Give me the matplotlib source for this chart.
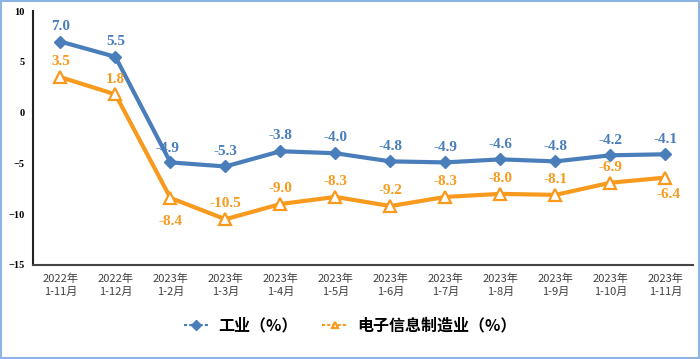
import matplotlib.pyplot as plt
from matplotlib.patches import Rectangle

plt.rcParams['font.family'] = ['Noto Sans CJK SC', 'DejaVu Sans']

categories = ['2022年\n1-11月', '2022年\n1-12月', '2023年\n1-2月', '2023年\n1-3月',
              '2023年\n1-4月', '2023年\n1-5月', '2023年\n1-6月', '2023年\n1-7月',
              '2023年\n1-8月', '2023年\n1-9月', '2023年\n1-10月', '2023年\n1-11月']
industry = [7.0, 5.5, -4.9, -5.3, -3.8, -4.0, -4.8, -4.9, -4.6, -4.8, -4.2, -4.1]
electronics = [3.5, 1.8, -8.4, -10.5, -9.0, -8.3, -9.2, -8.3, -8.0, -8.1, -6.9, -6.4]
# label offsets (points) for the orange series
elec_offsets = [(0, 11), (0, 11), (0, -17), (0, 11), (0, 11), (0, 11), (0, 11),
                (0, 11), (0, 11), (0, 11), (0, 11), (2, -12)]
ind_offsets = [(0, 11)] * 12
ind_offsets[2] = (-2, 10)

blue = '#4A7EBB'
orange = '#F79A1E'

fig = plt.figure(figsize=(7, 3.59), dpi=100)
ax = fig.add_axes([0.047, 0.262, 0.943, 0.707])

x = list(range(len(categories)))
ax.plot(x, industry, color=blue, lw=3, marker='D', ms=6.5, mfc=blue, mec=blue,
        label='工业（%）', zorder=3)
ax.plot(x, electronics, color=orange, lw=3, marker='^', ms=8, mfc='white', mec=orange,
        mew=1.6, label='电子信息制造业（%）', zorder=3)

for i, v in enumerate(industry):
    ax.annotate(f'{v:.1f}', (i, v), xytext=ind_offsets[i], textcoords='offset points',
                ha='center', va='center', color=blue, fontsize=11,
                fontfamily='Liberation Serif', fontweight='bold')
for i, v in enumerate(electronics):
    ax.annotate(f'{v:.1f}', (i, v), xytext=elec_offsets[i], textcoords='offset points',
                ha='center', va='center', color=orange, fontsize=11,
                fontfamily='Liberation Serif', fontweight='bold')

ax.set_xlim(-0.5, 11.5)
ax.set_ylim(-15, 10)
ax.set_yticks([-15, -10, -5, 0, 5, 10])
ax.set_xticks(x)
ax.set_xticklabels(categories, fontsize=8, color='#404040', linespacing=1.4)
for lab in ax.get_yticklabels():
    lab.set_fontfamily('Liberation Serif')
    lab.set_fontweight('bold')
    lab.set_fontsize(7.5)
ax.tick_params(length=0, pad=6)
for s in ['top', 'right']:
    ax.spines[s].set_visible(False)
ax.spines['left'].set_linewidth(1.5)
ax.spines['bottom'].set_linewidth(1.5)
ax.spines['left'].set_color('#222222')
ax.spines['bottom'].set_color('#444444')

leg = fig.legend(loc='center', bbox_to_anchor=(0.5, 0.093), ncol=2, frameon=False,
                 prop={'size': 11.5, 'weight': 'bold'}, handlelength=1.6,
                 columnspacing=1.5, handletextpad=0.6)
for h in leg.legend_handles:
    h.set_linewidth(1.5)
    h.set_linestyle((0, (1.5, 1)))
    h.set_markersize(5)

fig.patches.append(Rectangle((0.002, 0.003), 0.996, 0.994, transform=fig.transFigure,
                             fill=False, edgecolor='#8EB4E3', lw=1.5))

fig.savefig('out.png', dpi=100)
